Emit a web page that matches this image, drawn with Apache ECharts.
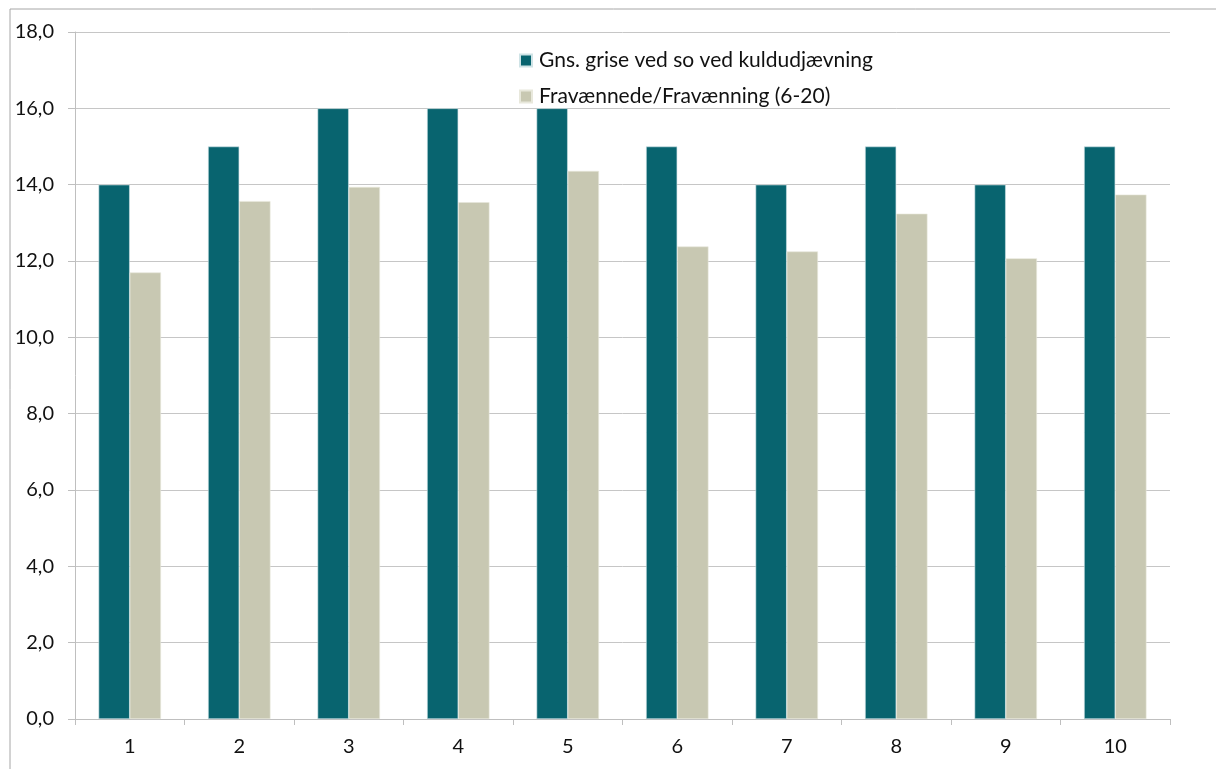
<!DOCTYPE html>
<html><head><meta charset="utf-8">
<script src="https://cdn.jsdelivr.net/npm/echarts@6/dist/echarts.min.js"></script>
<style>html,body{margin:0;padding:0;background:#fff}#c{width:1216px;height:769px}</style>
</head><body><div id="c"></div>
<script>
const categories = ['1','2','3','4','5','6','7','8','9','10'];
const seriesNames = ['Gns. grise ved so ved kuldudjævning', 'Fravænnede/Fravænning (6-20)'];
const grise = [14, 15, 16, 16, 16, 15, 14, 15, 14, 15];
const fravaennede = [11.70, 13.57, 13.94, 13.54, 14.36, 12.38, 12.25, 13.24, 12.07, 13.74];
const yMin = 0, yMax = 18, yStep = 2;

const font = 'Lato, "Open Sans", sans-serif';
const chart = echarts.init(document.getElementById('c'), null, {renderer: 'canvas'});
chart.setOption({
  animation: false,
  textStyle: {fontFamily: font},
  graphic: [{type: 'rect', shape: {x: 10, y: 9, width: 1230, height: 800}, style: {fill: 'none', stroke: '#a6a6a6', lineWidth: 1}, z: 0}],
  grid: {left: 75, right: 46, top: 32, bottom: 50},
  legend: {
    orient: 'vertical', left: 514, top: 45, itemGap: 15,
    itemWidth: 12, itemHeight: 12, icon: 'rect',
    textStyle: {fontSize: 21, color: '#111', fontFamily: font, padding: [0, 0, 0, 2]},
    data: seriesNames
  },
  xAxis: {
    type: 'category', data: categories,
    axisLine: {lineStyle: {color: '#bfbfbf'}},
    axisTick: {show: true, length: 6, lineStyle: {color: '#bfbfbf'}},
    axisLabel: {fontSize: 20, color: '#111', margin: 18, fontFamily: font}
  },
  yAxis: {
    type: 'value', min: yMin, max: yMax, interval: yStep,
    axisLine: {show: true, lineStyle: {color: '#bfbfbf'}},
    axisTick: {show: true, length: 7, lineStyle: {color: '#bfbfbf'}},
    splitLine: {lineStyle: {color: '#c6c6c6'}},
    axisLabel: {fontSize: 20, color: '#111', margin: 21, fontFamily: font,
      formatter: v => v.toFixed(1).replace('.', ',')}
  },
  series: [
    {name: seriesNames[0], type: 'bar', data: grise, barGap: '0%', barCategoryGap: '43%',
     itemStyle: {color: '#08646F', borderColor: '#cfe3e6', borderWidth: 0.6}},
    {name: seriesNames[1], type: 'bar', data: fravaennede, barGap: '0%', barCategoryGap: '43%',
     itemStyle: {color: '#C8C8B2', borderColor: '#e8e8dc', borderWidth: 0.6}}
  ]
});
</script></body></html>
